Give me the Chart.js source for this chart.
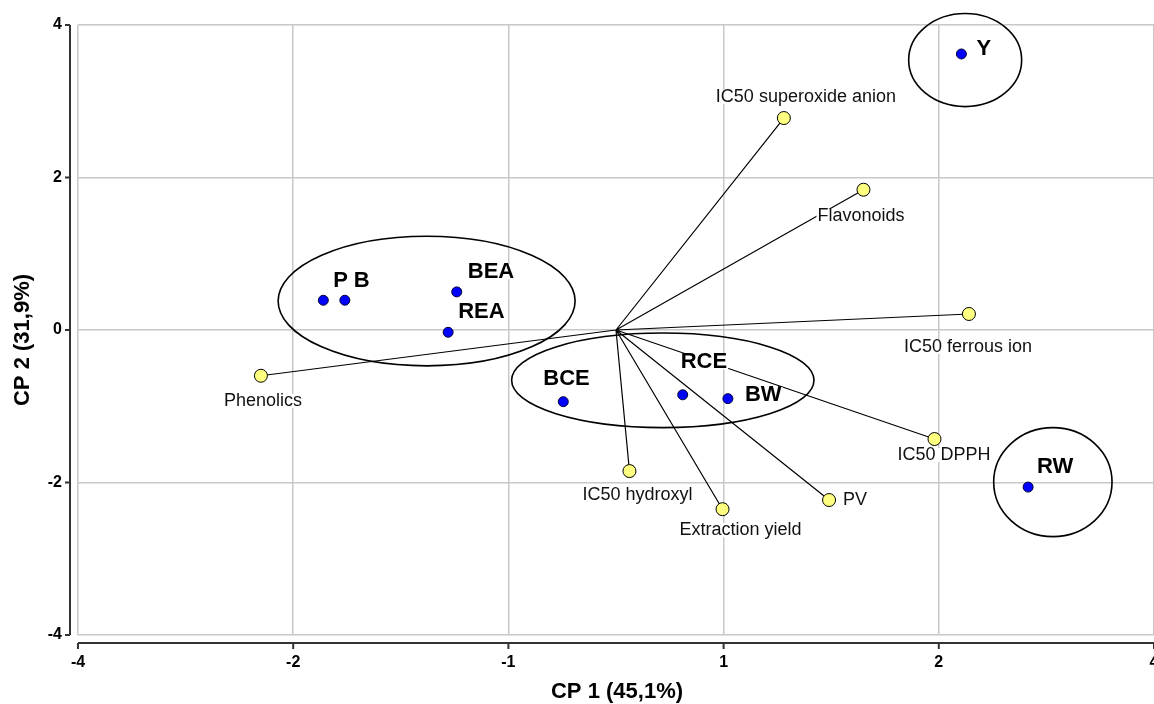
<!DOCTYPE html>
<html>
<head>
<meta charset="utf-8">
<script src="https://cdn.jsdelivr.net/npm/chart.js@4/dist/chart.umd.min.js"></script>
<style>
  html, body { margin: 0; padding: 0; background: #ffffff; }
  #wrap { width: 1154px; height: 704px; position: relative; }
</style>
</head>
<body>
<div id="wrap"><canvas id="c"></canvas></div>
<script>
// ---------- data ----------
const xTickLabels = [-4, -2, -1, 1, 2, 4];   // CP 1 axis labels (evenly spaced on the original axis)
const yTickLabels = [-4, -2, 0, 2, 4];

const obsLabels = ['P', 'B', 'BEA', 'REA', 'BCE', 'RCE', 'BW', 'Y', 'RW'];
const obsX = [-1.86, -1.76, -1.24, -1.28, -0.49, 0.62, 1.02, 2.21, 2.83];
const obsY = [0.39, 0.39, 0.50, -0.03, -0.94, -0.85, -0.90, 3.62, -2.06];

const varLabels = ['Phenolics', 'IC50 superoxide anion', 'Flavonoids', 'IC50 ferrous ion',
                   'IC50 DPPH', 'PV', 'Extraction yield', 'IC50 hydroxyl'];
const varX = [-2.30, 1.28, 1.65, 2.28, 1.98, 1.49, 0.99, 0.125];
const varY = [-0.60, 2.78, 1.84, 0.21, -1.43, -2.23, -2.35, -1.85];

// group ellipses (bounding boxes in axis units)
const groupXMin = [-2.14, -0.97, 1.86, 2.51];
const groupXMax = [-0.38, 1.42, 2.77, 3.61];
const groupYMin = [-0.47, -1.28, 2.93, -2.71];
const groupYMax = [1.23, -0.04, 4.15, -1.28];

// ---------- label placement (pixels, style only) ----------
const obsLabelOffsets = [[10, -19], [9, -19], [11, -20], [10, -20], [-20, -23], [-2, -33], [17, -4], [15, -5], [9, -20]];
const varLabelOffsets = [[-37, 25], [-68, -21], [-46, 26], [-65, 33], [-37, 16], [14, 0], [-43, 21], [-47, 24]];

// ---------- axis mapping: CP1 axis labels are evenly spaced ----------
function toIdx(v) {
  const t = xTickLabels;
  let k = 0;
  while (k < t.length - 2 && v > t[k + 1]) k++;
  return k + (v - t[k]) / (t[k + 1] - t[k]);
}

const FONT = '"Liberation Sans", Arial, Helvetica, sans-serif';

const vectorData = [];
varX.forEach((vx, i) => {
  vectorData.push({x: toIdx(0), y: 0});
  vectorData.push({x: toIdx(vx), y: varY[i]});
});
vectorData.push({x: toIdx(0), y: 0});

const varPoints = varX.map((vx, i) => ({x: toIdx(vx), y: varY[i]}));
const obsPoints = obsX.map((ox, i) => ({x: toIdx(ox), y: obsY[i]}));

function drawLabel(ctx, text, x, y, font, color) {
  ctx.font = font;
  ctx.textAlign = 'left';
  ctx.textBaseline = 'middle';
  const w = ctx.measureText(text).width;
  const m = ctx.measureText('M');
  const h = (m.actualBoundingBoxAscent || 12) + 4;
  ctx.fillStyle = '#ffffff';
  ctx.fillRect(x - 1, y - h / 2 - 1, w + 2, h + 2);
  ctx.fillStyle = color;
  ctx.fillText(text, x, y);
}

const overlayPlugin = {
  id: 'overlay',
  afterDatasetDraw(chart, args) {
    if (args.index !== 0) return;
    const ctx = chart.ctx;
    const xs = chart.scales.x, ys = chart.scales.y;
    ctx.save();
    varLabels.forEach((lab, i) => {
      const px = xs.getPixelForValue(toIdx(varX[i]));
      const py = ys.getPixelForValue(varY[i]);
      drawLabel(ctx, lab, px + varLabelOffsets[i][0], py + varLabelOffsets[i][1], '18px ' + FONT, '#111111');
    });
    obsLabels.forEach((lab, i) => {
      const px = xs.getPixelForValue(toIdx(obsX[i]));
      const py = ys.getPixelForValue(obsY[i]);
      drawLabel(ctx, lab, px + obsLabelOffsets[i][0], py + obsLabelOffsets[i][1], 'bold 22px ' + FONT, '#000000');
    });
    ctx.strokeStyle = '#000000';
    ctx.lineWidth = 1.6;
    groupXMin.forEach((x0, i) => {
      const l = xs.getPixelForValue(toIdx(x0));
      const r = xs.getPixelForValue(toIdx(groupXMax[i]));
      const t = ys.getPixelForValue(groupYMax[i]);
      const b = ys.getPixelForValue(groupYMin[i]);
      ctx.beginPath();
      ctx.ellipse((l + r) / 2, (t + b) / 2, (r - l) / 2, (b - t) / 2, 0, 0, Math.PI * 2);
      ctx.stroke();
    });
    ctx.restore();
  },
  afterDraw(chart) {
    const ctx = chart.ctx;
    const xs = chart.scales.x, ys = chart.scales.y;
    const a = chart.chartArea;
    ctx.save();
    ctx.strokeStyle = '#333333';
    ctx.lineWidth = 2;
    const yx = a.left - 8;
    ctx.beginPath();
    ctx.moveTo(yx, a.top);
    ctx.lineTo(yx, a.bottom);
    yTickLabels.forEach(v => {
      const py = ys.getPixelForValue(v);
      ctx.moveTo(yx - 5, py);
      ctx.lineTo(yx, py);
    });
    ctx.stroke();
    const xy = a.bottom + 8;
    ctx.beginPath();
    ctx.moveTo(a.left, xy);
    ctx.lineTo(a.right, xy);
    xTickLabels.forEach((v, i) => {
      const px = xs.getPixelForValue(i);
      ctx.moveTo(px, xy);
      ctx.lineTo(px, xy + 6);
    });
    ctx.stroke();
    ctx.fillStyle = '#000000';
    ctx.font = 'bold 22px ' + FONT;
    ctx.textAlign = 'center';
    ctx.textBaseline = 'middle';
    ctx.fillText('CP 1 (45,1%)', 617, 692);
    ctx.translate(23, 340);
    ctx.rotate(-Math.PI / 2);
    ctx.fillText('CP 2 (31,9%)', 0, 0);
    ctx.restore();
  }
};

new Chart(document.getElementById('c'), {
  type: 'scatter',
  data: {
    datasets: [
      {
        type: 'line',
        data: vectorData,
        borderColor: '#000000',
        borderWidth: 1.2,
        borderJoinStyle: 'round',
        pointRadius: 0,
        fill: false,
        tension: 0,
        order: 3
      },
      {
        data: varPoints,
        backgroundColor: '#ffff80',
        borderColor: '#000000',
        borderWidth: 1,
        pointRadius: 6.5,
        order: 2
      },
      {
        data: obsPoints,
        backgroundColor: '#0000ff',
        borderColor: '#000033',
        borderWidth: 1,
        pointRadius: 5,
        order: 1
      }
    ]
  },
  options: {
    responsive: true,
    maintainAspectRatio: false,
    animation: false,
    events: [],
    layout: { autoPadding: false, padding: { top: 25, right: 0, bottom: 0, left: 0 } },
    plugins: { legend: { display: false }, tooltip: { enabled: false } },
    scales: {
      x: {
        type: 'linear',
        min: 0, max: 5,
        border: { display: false },
        grid: { color: '#c8c8c8', lineWidth: 1.5, drawTicks: false },
        ticks: {
          stepSize: 1,
          padding: 20,
          color: '#000000',
          font: { family: FONT, size: 16, weight: 'bold', lineHeight: 1 },
          maxRotation: 0,
          autoSkip: false,
          callback: v => (Number.isInteger(v) && xTickLabels[v] !== undefined) ? String(xTickLabels[v]) : ''
        },
        afterFit(s) { s.height = 69; s.paddingLeft = 0; s.paddingRight = 0; }
      },
      y: {
        type: 'linear',
        min: -4, max: 4,
        border: { display: false },
        grid: { color: '#c8c8c8', lineWidth: 1.5, drawTicks: false },
        ticks: {
          stepSize: 2,
          padding: 16,
          color: '#000000',
          font: { family: FONT, size: 16, weight: 'bold' },
          callback: v => String(v)
        },
        afterFit(s) { s.width = 78; s.paddingTop = 0; s.paddingBottom = 0; }
      }
    }
  },
  plugins: [overlayPlugin]
});
</script>
</body>
</html>
